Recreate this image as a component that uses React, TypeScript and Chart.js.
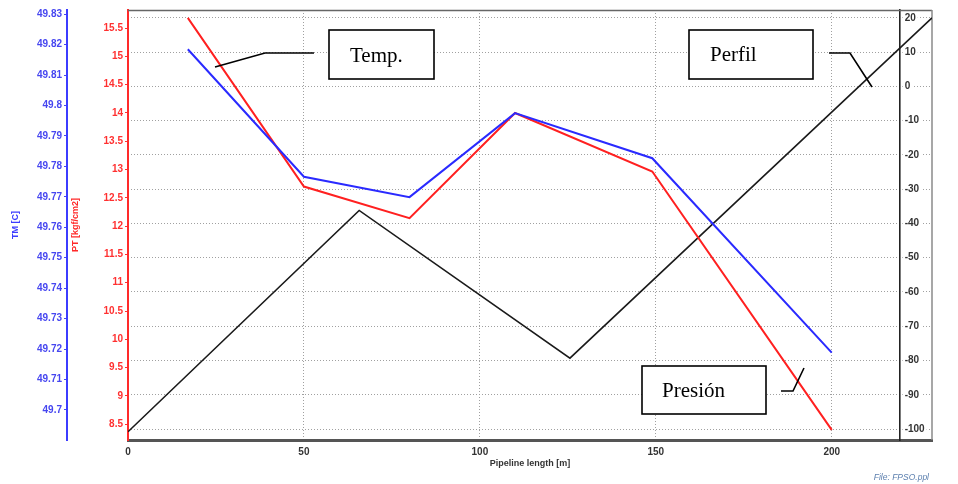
import { useEffect, useRef } from "react";
import { Chart, registerables } from "chart.js";

Chart.register(...registerables);

// ---- data ----
const pipelineX = [17, 50, 80, 110, 149, 200];
const tempTM = [49.8185, 49.7766, 49.7699, 49.7975, 49.7827, 49.7188];
const presPT = [15.68, 12.7, 12.14, 14.0, 12.965, 8.4];
const geoX = [0, 65.7, 125.6, 228.5];
const geoY = [-100.8, -36.2, -79.3, 20];

const X_MIN = 0;
const X_MAX = 228.5;
const X_STEP = 50;
const TM_MIN = 49.6901;
const TM_MAX = 49.8314;
const TM_STEP = 0.01;
const PT_MIN = 8.22;
const PT_MAX = 15.82;
const PT_STEP = 0.5;
const GEO_MIN = -103.2;
const GEO_MAX = 22.3;
const GEO_STEP = 10;
const GEO_AXIS_AT = 219.3;

const SANS = '"Liberation Sans", Arial, sans-serif';
const SERIF = '"Liberation Serif", "Times New Roman", serif';

const fmt = (v: any) => String(Math.round(Number(v) * 1000) / 1000);

const decorPlugin = {
  id: "decor",
  beforeDatasetsDraw(chart: any) {
    const { ctx, chartArea: ca, scales } = chart;
    const geo = scales.geo;
    const ax = scales.x.getPixelForValue(GEO_AXIS_AT);
    ctx.save();
    // frame top and right
    ctx.lineWidth = 1.5;
    ctx.strokeStyle = "#666";
    ctx.beginPath();
    ctx.moveTo(ca.left, ca.top + 0.5);
    ctx.lineTo(ca.right, ca.top + 0.5);
    ctx.stroke();
    ctx.strokeStyle = "#8a8a8a";
    ctx.beginPath();
    ctx.moveTo(ca.right, ca.top);
    ctx.lineTo(ca.right, ca.bottom);
    ctx.stroke();
    // geometry tick labels
    ctx.font = `bold 10px ${SANS}`;
    ctx.textAlign = "left";
    ctx.textBaseline = "middle";
    geo.ticks.forEach((t: any) => {
      const y = geo.getPixelForValue(t.value);
      const label = fmt(t.value);
      const w = ctx.measureText(label).width;
      ctx.fillStyle = "#fff";
      ctx.fillRect(ax + 3, y - 4, w + 4, 8);
      ctx.fillStyle = "#333";
      ctx.fillText(label, ax + 5, y);
    });
    ctx.restore();
  },
  afterDraw(chart: any) {
    const { ctx } = chart;
    ctx.save();
    const box = (x: number, y: number, w: number, h: number, text: string, tx: number, ty: number) => {
      ctx.fillStyle = "#fff";
      ctx.fillRect(x, y, w, h);
      ctx.strokeStyle = "#000";
      ctx.lineWidth = 1.6;
      ctx.strokeRect(x, y, w, h);
      ctx.fillStyle = "#000";
      ctx.font = `21px ${SERIF}`;
      ctx.textAlign = "left";
      ctx.textBaseline = "alphabetic";
      ctx.fillText(text, tx, ty);
    };
    const poly = (pts: number[][]) => {
      ctx.strokeStyle = "#000";
      ctx.lineWidth = 1.6;
      ctx.beginPath();
      pts.forEach((p, i) => (i ? ctx.lineTo(p[0], p[1]) : ctx.moveTo(p[0], p[1])));
      ctx.stroke();
    };
    box(329, 30, 105, 49, "Temp.", 350, 62);
    poly([[215, 67], [265, 53], [314, 53]]);
    box(689, 30, 124, 49, "Perfil", 710, 61);
    poly([[829, 53], [850, 53], [872, 87]]);
    box(642, 366, 124, 48, "Presión", 662, 397);
    poly([[781, 391], [793, 391], [804, 368]]);
    // file note
    ctx.font = `italic 8.5px ${SANS}`;
    ctx.fillStyle = "#5b7fae";
    ctx.textAlign = "right";
    ctx.textBaseline = "middle";
    ctx.fillText("File: FPSO.ppl", 929, 478);
    ctx.restore();
  },
};

export default function App() {
  const ref = useRef<HTMLCanvasElement | null>(null);
  useEffect(() => {
    if (!ref.current) return;
    const chart = new Chart(ref.current, {
      type: "line",
      data: {
        datasets: [
          {
            label: "TM",
            data: pipelineX.map((x, i) => ({ x, y: tempTM[i] })),
            yAxisID: "tm",
            borderColor: "#2a2aff",
            borderWidth: 2,
            pointRadius: 0,
            tension: 0,
          },
          {
            label: "PT",
            data: pipelineX.map((x, i) => ({ x, y: presPT[i] })),
            yAxisID: "pt",
            borderColor: "#ff2020",
            borderWidth: 2,
            pointRadius: 0,
            tension: 0,
          },
          {
            label: "Geometry",
            data: geoX.map((x, i) => ({ x, y: geoY[i] })),
            yAxisID: "geo",
            borderColor: "#1a1a1a",
            borderWidth: 1.6,
            pointRadius: 0,
            tension: 0,
          },
        ],
      },
      options: {
        responsive: true,
        maintainAspectRatio: false,
        animation: false,
        devicePixelRatio: 1,
        layout: { padding: { left: 0, top: 10, right: 26, bottom: 10 } },
        plugins: { legend: { display: false }, tooltip: { enabled: false } },
        scales: {
          x: {
            type: "linear",
            position: "bottom",
            min: X_MIN,
            max: X_MAX,
            ticks: {
              stepSize: X_STEP,
              includeBounds: false,
              autoSkip: false,
              maxRotation: 0,
              color: "#333",
              padding: 6,
              font: { family: SANS, size: 10, weight: "bold" },
              callback: (v: any) => fmt(v),
            },
            grid: { color: "#a0a0a0", lineWidth: 1, drawTicks: false },
            border: { color: "#555", width: 3, dash: [1, 2] },
            title: {
              display: true,
              text: "Pipeline length [m]",
              color: "#333",
              font: { family: SANS, size: 9, weight: "bold" },
              padding: { top: 0, bottom: 5 },
            },
            afterFit: (s: any) => {
              s.height = 34;
            },
          },
          tm: {
            type: "linear",
            position: "left",
            weight: 1,
            min: TM_MIN,
            max: TM_MAX,
            ticks: {
              stepSize: TM_STEP,
              includeBounds: false,
              autoSkip: false,
              color: "#4646f0",
              padding: 2,
              font: { family: SANS, size: 10, weight: "bold" },
              callback: (v: any) => fmt(v),
            },
            grid: { drawOnChartArea: false, drawTicks: true, tickLength: 3, tickColor: "#4646f0" },
            border: { color: "#3c3cff", width: 2 },
            title: {
              display: true,
              text: "TM [C]",
              color: "#3c3cff",
              font: { family: SANS, size: 9, weight: "bold" },
              padding: { top: 10, bottom: 0 },
            },
            afterFit: (s: any) => {
              s.width = 67;
            },
          },
          pt: {
            type: "linear",
            position: "left",
            weight: 0,
            min: PT_MIN,
            max: PT_MAX,
            ticks: {
              stepSize: PT_STEP,
              includeBounds: false,
              autoSkip: false,
              color: "#ff3030",
              padding: 2,
              font: { family: SANS, size: 10, weight: "bold" },
              callback: (v: any) => fmt(v),
            },
            grid: { drawOnChartArea: false, drawTicks: true, tickLength: 3, tickColor: "#ff3030" },
            border: { color: "#ff2a2a", width: 2 },
            title: {
              display: true,
              text: "PT [kgf/cm2]",
              color: "#ff2a2a",
              font: { family: SANS, size: 9, weight: "bold" },
              padding: { top: 3, bottom: 0 },
            },
            afterFit: (s: any) => {
              s.width = 61;
            },
          },
          geo: {
            type: "linear",
            position: { x: GEO_AXIS_AT },
            min: GEO_MIN,
            max: GEO_MAX,
            ticks: { stepSize: GEO_STEP, includeBounds: false, display: false },
            grid: { color: "#a0a0a0", lineWidth: 1, drawTicks: false },
            border: { color: "#222", width: 1.6, dash: [1, 2] },
            title: { display: false },
          },
        },
      },
      plugins: [decorPlugin],
    } as any);
    return () => chart.destroy();
  }, []);
  return (
    <div style={{ position: "fixed", left: 0, top: 0, width: 958, height: 484, background: "#fff" }}>
      <canvas ref={ref} />
    </div>
  );
}
